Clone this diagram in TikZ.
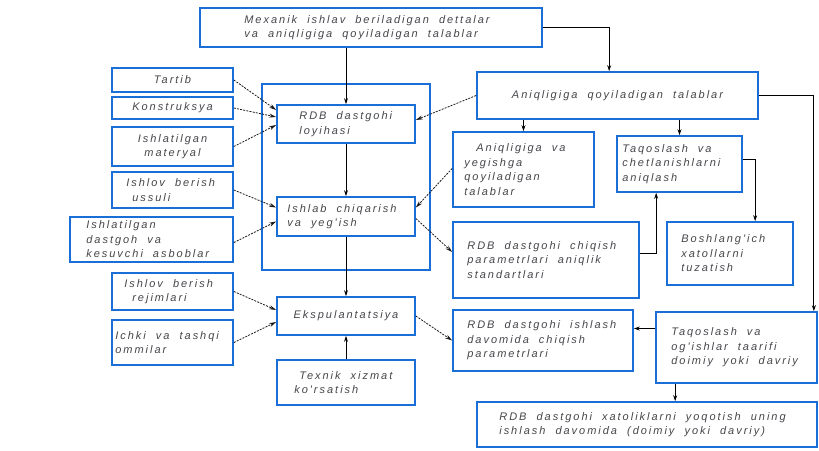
\documentclass[tikz,border=0pt]{standalone}
\usepackage{fontspec}
\newfontfamily\cadfont[LetterSpace=18,WordSpace=2.0]{Liberation Sans}
\newcommand\cadtext{\cadfont\itshape\fontsize{11}{14.5}\selectfont}
\usetikzlibrary{calc,arrows.meta}
\definecolor{boxblue}{RGB}{25,110,215}
\definecolor{txtgray}{RGB}{70,70,75}
\begin{document}
\begin{tikzpicture}[x=1pt,y=-1pt,
  box/.style={draw=boxblue,line width=1.7pt,fill=white,rectangle,inner sep=0pt,
    font=\cadtext,text=txtgray,align=center},
  txt/.style={inner sep=0pt,font=\cadtext,text=txtgray,align=left,anchor=west},
  arr/.style={draw=black,line width=0.8pt,-{Stealth[length=6pt,width=4pt]}},
  darr/.style={draw=black!90,line width=0.8pt,dash pattern=on 2pt off 1.2pt,-{Stealth[length=7pt,width=4pt]}}]
\useasboundingbox (0,0) rectangle (819,450);
\fill[white] (0,0) rectangle (819,450);
% container frame
\node[draw=boxblue,line width=1.7pt,minimum width=168pt,minimum height=186pt,inner sep=0pt] (frame) at (346,177) {};
% boxes
\node[box,minimum width=342pt,minimum height=39pt] (top) at (371,27.5) {};
\node[txt] (topt) at ($(top.west)+(45,0)$) {Mexanik ishlav beriladigan dettalar\\va aniqligiga qoyiladigan talablar};
\node[box,minimum width=138pt,minimum height=38pt] (loy) at (346,124) {};
\node[txt] (loyt) at ($(loy.west)+(23,0)$) {RDB dastgohi\\loyihasi};
\node[box,minimum width=121pt,minimum height=24pt] (tartib) at (172.5,80) {Tartib};
\node[box,minimum width=121pt,minimum height=22pt] (kons) at (172.5,108) {Konstruksya};
\node[box,minimum width=121pt,minimum height=39pt] (mat) at (172.5,146.5) {Ishlatilgan\\materyal};
\node[box,minimum width=121pt,minimum height=36pt] (ussul) at (172.5,190) {};
\node[txt] (ussult) at ($(ussul.west)+(15,0)$) {Ishlov berish\\\hspace*{6pt}ussuli};
\node[box,minimum width=163pt,minimum height=45pt] (dastgoh) at (151.5,239.5) {};
\node[txt] (dastgoht) at ($(dastgoh.west)+(17,0)$) {Ishlatilgan\\dastgoh\hspace{10pt}va\\kesuvchi\hspace{10pt}asboblar};
\node[box,minimum width=138pt,minimum height=39pt] (ishlab) at (346,216.5) {};
\node[txt] (ishlabt) at ($(ishlab.west)+(11,0)$) {Ishlab chiqarish\\va yeg'ish};
\node[box,minimum width=121pt,minimum height=37pt] (rejim) at (172.5,291.5) {};
\node[txt] (rejimt) at ($(rejim.west)+(13,0)$) {Ishlov berish\\\hspace*{8pt}rejimlari};
\node[box,minimum width=121pt,minimum height=45pt] (ommil) at (172.5,342.5) {};
\node[txt] (ommilt) at ($(ommil.west)+(4,0)$) {Ichki va tashqi\\ommilar};
\node[box,minimum width=138pt,minimum height=38pt] (ekspl) at (346,316) {Ekspulantatsiya};
\node[box,minimum width=138pt,minimum height=45pt] (texnik) at (346,382.5) {};
\node[txt] (texnikt) at ($(texnik.west)+(18,0)$) {\hspace*{5pt}Texnik xizmat\\ko'rsatish};
\node[box,minimum width=281pt,minimum height=47pt] (aniq) at (617.5,95.5) {Aniqligiga qoyiladigan talablar};
\node[box,minimum width=141pt,minimum height=75pt] (aniqva) at (523.5,169.5) {};
\node[txt] (aniqvat) at ($(aniqva.west)+(12,0)$) {\hspace*{12pt}Aniqligiga\hspace{10pt}va\\yegishga\\qoyiladigan\\talablar};
\node[box,minimum width=125pt,minimum height=56pt] (taq1) at (679.5,164) {};
\node[txt] (taq1t) at ($(taq1.west)+(6,0)$) {Taqoslash va\\chetlanishlarni\\aniqlash};
\node[box,minimum width=186pt,minimum height=76pt] (chiq) at (546,260) {};
\node[txt] (chiqt) at ($(chiq.west)+(15,0)$) {RDB dastgohi chiqish\\parametrlari aniqlik\\standartlari};
\node[box,minimum width=126pt,minimum height=63pt] (bosh) at (730,253.5) {};
\node[txt] (bosht) at ($(bosh.west)+(15,0)$) {Boshlang'ich\\xatollarni\\tuzatish};
\node[box,minimum width=180pt,minimum height=61pt] (ishlash) at (543,340.5) {};
\node[txt] (ishlasht) at ($(ishlash.west)+(15,0)$) {RDB dastgohi ishlash\\davomida chiqish\\parametrlari};
\node[box,minimum width=161pt,minimum height=71pt] (taq2) at (736.5,347.5) {};
\node[txt] (taq2t) at ($(taq2.west)+(16,0)$) {Taqoslash va\\og'ishlar taarifi\\doimiy yoki davriy};
\node[box,minimum width=340pt,minimum height=45pt] (xato) at (647,424.5) {};
\node[txt] (xatot) at ($(xato.west)+(23,0)$) {RDB dastgohi xatoliklarni yoqotish uning\\ishlash davomida (doimiy yoki davriy)};
% solid connectors
\draw[arr] (loy.north |- top.south) -- (loy.north);
\draw[arr] (loy.south) -- (ishlab.north);
\draw[arr] (ishlab.south) -- (ekspl.north);
\draw[arr] (texnik.north) -- (ekspl.south);
\coordinate (aniqin) at ($(aniq.north west)+(133,0)$);
\draw[arr] (top.east) -| (aniqin);
\coordinate (taq2in) at ($(taq2.north east)+(-4,0)$);
\draw[arr] (aniq.east) -| (taq2in);
\draw[arr] (aniqva.north |- aniq.south) -- (aniqva.north);
\draw[arr] (taq1.north |- aniq.south) -- (taq1.north);
\coordinate (t1out) at ($(taq1.east)+(0,-5)$);
\coordinate (boshin) at ($(bosh.north west)+(89,0)$);
\draw[arr] (t1out) -| (boshin);
\coordinate (chout) at ($(chiq.east)+(0,-7)$);
\coordinate (t1in) at ($(taq1.south west)+(40,0)$);
\draw[arr] (chout) -| (t1in);
\coordinate (t2out) at ($(taq2.west)+(0,-19)$);
\draw[arr] (t2out) -- (ishlash.east |- t2out);
\coordinate (t2down) at ($(taq2.south west)+(20,0)$);
\draw[arr] (t2down) -- (t2down |- xato.north);
% dashed connectors
\draw[darr] (tartib.east) -- ($(loy.west)+(0,-14)$);
\draw[darr] (kons.east) -- ($(loy.west)+(0,-7)$);
\draw[darr] (mat.east) -- ($(loy.west)+(0,1)$);
\draw[darr] (aniq.west) -- ($(loy.east)+(0,-4)$);
\draw[darr] ($(aniqva.west)+(0,-1)$) -- ($(ishlab.east)+(0,-9)$);
\draw[darr] ($(ishlab.east)+(0,2)$) -- ($(chiq.west)+(0,-8)$);
\draw[darr] (ussul.east) -- ($(ishlab.west)+(0,-9)$);
\draw[darr] ($(dastgoh.east)+(0,3)$) -- ($(ishlab.west)+(0,5)$);
\draw[darr] (rejim.east) -- ($(ekspl.west)+(0,-6)$);
\draw[darr] (ommil.east) -- ($(ekspl.west)+(0,6)$);
\draw[darr] (ekspl.east) -- (ishlash.west);
\end{tikzpicture}
\end{document}
